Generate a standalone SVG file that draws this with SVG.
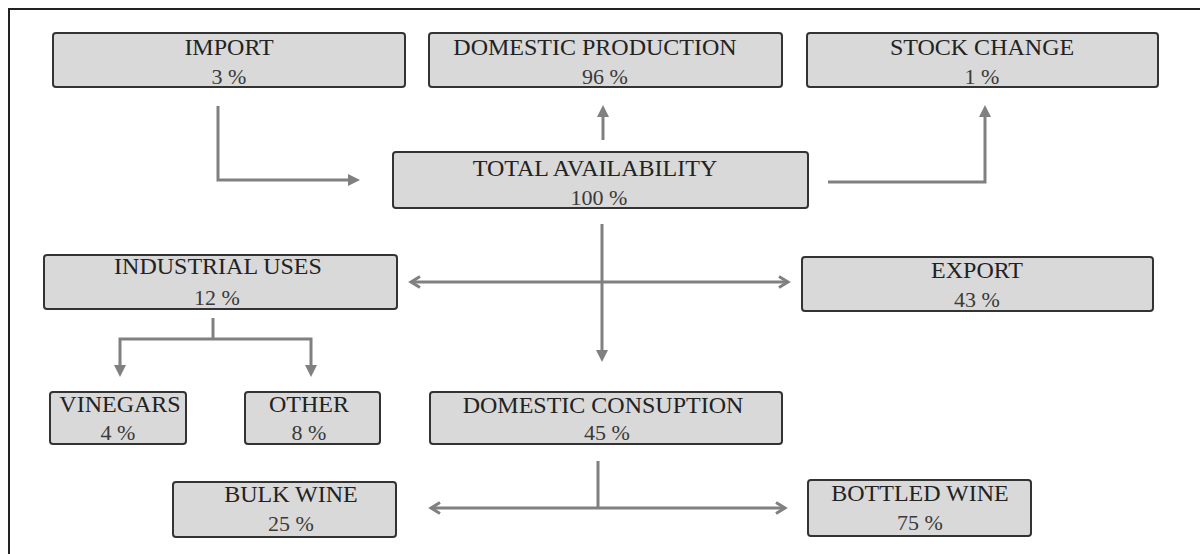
<svg xmlns="http://www.w3.org/2000/svg" width="1200" height="554" viewBox="0 0 1200 554">
<defs>
<style>
.box{fill:#d9d9d9;stroke:#333;stroke-width:2}
.t{font-family:"Liberation Serif","Times New Roman",serif;font-size:24px;fill:#222;text-anchor:middle}
.p{font-family:"Liberation Serif","Times New Roman",serif;font-size:22px;fill:#3a3a3a;text-anchor:middle}
.c{fill:none;stroke:#808080;stroke-width:3}
</style>
<marker id="tri" markerUnits="userSpaceOnUse" viewBox="0 0 12 12" refX="8" refY="6" markerWidth="12" markerHeight="12" orient="auto-start-reverse">
<path d="M0,0 L12,6 L0,12 z" fill="#808080"/>
</marker>
<marker id="chev" markerUnits="userSpaceOnUse" viewBox="-2 -2 16 16" refX="10" refY="6" markerWidth="16" markerHeight="16" orient="auto-start-reverse">
<path d="M1,0.5 L10,6 L1,11.5" fill="none" stroke="#808080" stroke-width="3" stroke-linejoin="miter"/>
</marker>
</defs>
<rect x="0" y="0" width="1200" height="554" fill="#fff"/>
<rect x="9" y="9" width="1200" height="560" fill="none" stroke="#222" stroke-width="2"/>

<g id="connectors">
<path class="c" d="M218,106 V180 H356" marker-end="url(#tri)"/>
<path class="c" d="M603,140 V109" marker-end="url(#tri)"/>
<path class="c" d="M828,182 H985 V109" marker-end="url(#tri)"/>
<path class="c" d="M602,224 V358" marker-end="url(#tri)"/>
<path class="c" d="M411,282 H788" marker-start="url(#chev)" marker-end="url(#chev)"/>
<path class="c" d="M213,318 V339"/>
<path class="c" d="M120,373 V339 H311 V373" marker-start="url(#tri)" marker-end="url(#tri)"/>
<path class="c" d="M598,461 V508"/>
<path class="c" d="M431,508 H785" marker-start="url(#chev)" marker-end="url(#chev)"/>
</g>

<g id="import">
<rect class="box" x="53" y="33" width="352" height="54" rx="3"/>
<text class="t" x="229" y="55">IMPORT</text>
<text class="p" x="229" y="84">3 %</text>
</g>
<g id="domestic-production">
<rect class="box" x="429" y="33" width="353" height="54" rx="3"/>
<text class="t" x="595" y="55">DOMESTIC PRODUCTION</text>
<text class="p" x="605" y="84">96 %</text>
</g>
<g id="stock-change">
<rect class="box" x="807" y="33" width="351" height="54" rx="3"/>
<text class="t" x="982" y="55">STOCK CHANGE</text>
<text class="p" x="982" y="84">1 %</text>
</g>
<g id="total-availability">
<rect class="box" x="393" y="152" width="415" height="56" rx="3"/>
<text class="t" x="595" y="176">TOTAL AVAILABILITY</text>
<text class="p" x="599" y="205">100 %</text>
</g>
<g id="industrial-uses">
<rect class="box" x="44" y="255" width="353" height="54" rx="3"/>
<text class="t" x="218" y="274">INDUSTRIAL USES</text>
<text class="p" x="217" y="305">12 %</text>
</g>
<g id="export">
<rect class="box" x="802" y="257" width="351" height="54" rx="3"/>
<text class="t" x="977" y="278">EXPORT</text>
<text class="p" x="977" y="307">43 %</text>
</g>
<g id="vinegars">
<rect class="box" x="50" y="392" width="136" height="52" rx="3"/>
<text class="t" x="120" y="412">VINEGARS</text>
<text class="p" x="118" y="440">4 %</text>
</g>
<g id="other">
<rect class="box" x="245" y="392" width="135" height="52" rx="3"/>
<text class="t" x="309" y="412">OTHER</text>
<text class="p" x="309" y="440">8 %</text>
</g>
<g id="domestic-consumption">
<rect class="box" x="430" y="392" width="352" height="52" rx="3"/>
<text class="t" x="603" y="413">DOMESTIC CONSUPTION</text>
<text class="p" x="607" y="440">45 %</text>
</g>
<g id="bulk-wine">
<rect class="box" x="173" y="482" width="223" height="55" rx="3"/>
<text class="t" x="291" y="502">BULK WINE</text>
<text class="p" x="291" y="531">25 %</text>
</g>
<g id="bottled-wine">
<rect class="box" x="808" y="480" width="223" height="56" rx="3"/>
<text class="t" x="920" y="501">BOTTLED WINE</text>
<text class="p" x="920" y="530">75 %</text>
</g>
</svg>
